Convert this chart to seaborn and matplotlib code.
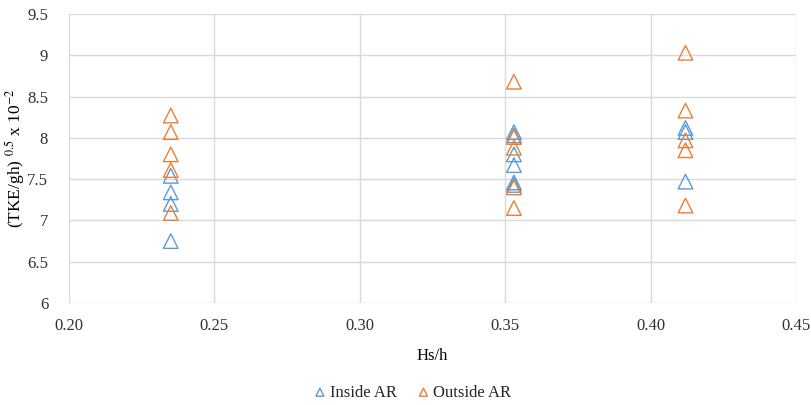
import matplotlib
matplotlib.use("Agg")
import matplotlib.pyplot as plt
import seaborn as sns
import pandas as pd

inside_x = [0.235, 0.235, 0.235, 0.235,
            0.353, 0.353, 0.353, 0.353, 0.353, 0.353,
            0.412, 0.412, 0.412]
inside_y = [7.54, 7.34, 7.20, 6.75,
            8.07, 8.03, 7.80, 7.67, 7.46, 7.43,
            8.12, 8.07, 7.47]
outside_x = [0.235, 0.235, 0.235, 0.235, 0.235,
             0.353, 0.353, 0.353, 0.353, 0.353,
             0.412, 0.412, 0.412, 0.412, 0.412]
outside_y = [8.27, 8.07, 7.80, 7.61, 7.09,
             8.68, 8.01, 7.88, 7.40, 7.15,
             9.03, 8.33, 7.97, 7.85, 7.18]

x_ticks = [0.20, 0.25, 0.30, 0.35, 0.40, 0.45]
y_ticks = [6, 6.5, 7, 7.5, 8, 8.5, 9, 9.5]

sns.set_theme(style="white")
plt.rcParams['font.family'] = ['Liberation Serif', 'DejaVu Serif']
plt.rcParams['mathtext.fontset'] = 'stix'

fig = plt.figure(figsize=(8.11, 4.05), dpi=100)
ax = fig.add_axes([69/811, 1 - 303/405, (796-69)/811, (303-14)/405])

blue = "#5B9BD5"
orange = "#ED7D31"

df_in = pd.DataFrame({"x": inside_x, "y": inside_y})
df_out = pd.DataFrame({"x": outside_x, "y": outside_y})

sns.scatterplot(data=df_in, x="x", y="y", ax=ax, marker="^", s=110,
                facecolors="none", edgecolor=blue, linewidth=1.0,
                label="Inside AR", zorder=3)
sns.scatterplot(data=df_out, x="x", y="y", ax=ax, marker="^", s=110,
                facecolors="none", edgecolor=orange, linewidth=1.0,
                label="Outside AR", zorder=3)

ax.set_xlim(0.20, 0.45)
ax.set_ylim(6, 9.5)
ax.set_xticks(x_ticks)
ax.set_xticklabels([f"{v:.2f}" for v in x_ticks])
ax.set_yticks(y_ticks)
ax.set_yticklabels([f"{v:g}" for v in y_ticks])
ax.grid(True, color="#d9d9d9", linewidth=1.0)
ax.set_axisbelow(True)
for s in ax.spines.values():
    s.set_visible(False)
ax.tick_params(axis="both", length=0, labelsize=12, colors="#303030")
ax.tick_params(axis="x", pad=11)
ax.tick_params(axis="y", pad=15)

ax.set_xlabel("Hs/h", fontsize=12, color="#000000", labelpad=10)
ax.set_ylabel(r"(TKE/gh) $^{0.5}$ x 10$^{-2}$", fontsize=12.5, color="#000000", labelpad=0)

handles, labels = ax.get_legend_handles_labels()
ax.legend(handles, labels, loc="center", bbox_to_anchor=(0.47, -0.31),
          ncol=2, frameon=False, fontsize=12, handletextpad=0.0,
          columnspacing=1.0, markerscale=0.55, handlelength=1.2)

fig.savefig("out.png", dpi=100)
